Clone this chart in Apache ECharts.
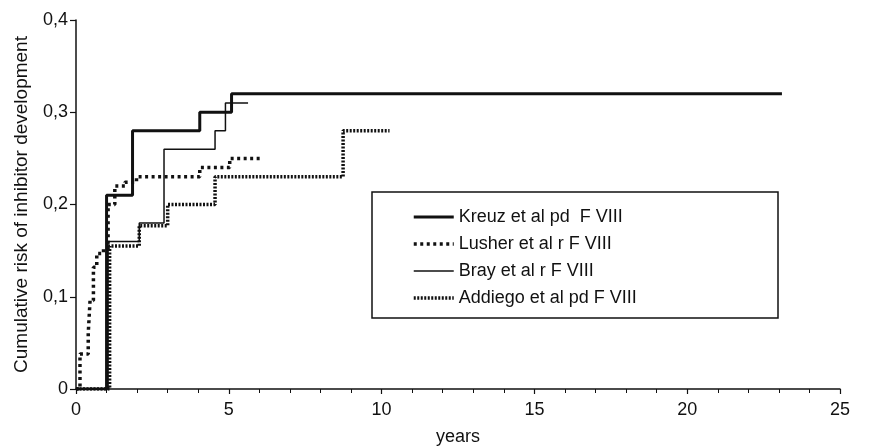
<!DOCTYPE html>
<html>
<head>
<meta charset="utf-8">
<script src="https://cdn.jsdelivr.net/npm/echarts@6/dist/echarts.min.js"></script>
<style>html,body{margin:0;padding:0;background:#fff}#c{width:870px;height:447px}</style>
</head>
<body>
<div id="c"></div>
<script>
// Data (years, cumulative risk); step changes
var seriesNames = ['Kreuz et al pd  F VIII', 'Lusher et al r F VIII', 'Bray et al r F VIII', 'Addiego et al pd F VIII'];
var kreuz = [[0,0],[1.0,0.21],[1.85,0.28],[4.05,0.30],[5.09,0.32],[23.1,0.32]];
var lusher = [[0,0],[0.13,0.038],[0.4,0.06],[0.46,0.096],[0.57,0.132],[0.68,0.147],[0.9,0.152],[1.05,0.2],[1.27,0.22],[1.6,0.224],[1.98,0.23],[4.05,0.24],[5.03,0.25],[6.1,0.25]];
var bray = [[0,0],[1.05,0.16],[2.07,0.18],[2.88,0.26],[4.55,0.28],[4.89,0.31],[5.63,0.31]];
var addiego = [[0,0],[1.1,0.155],[2.07,0.177],[3.0,0.2],[4.55,0.23],[8.74,0.28],[10.26,0.28]];
var xTicks = [0,5,10,15,20,25];
var yTicks = ['0','0,1','0,2','0,3','0,4'];

var ink = '#111';
var font = 'Liberation Sans, Arial, sans-serif';
var widths = [3, 3.5, 1.5, 3.5];
var dashes = ['solid', [3, 3.5], 'solid', [2, 1.5]];
var chart = echarts.init(document.getElementById('c'));
function mk(i, data) {
  return {
    name: seriesNames[i], type: 'line', step: 'end', data: data,
    symbol: 'none', showSymbol: false, animation: false,
    lineStyle: {color: ink, width: widths[i], type: dashes[i]},
    itemStyle: {color: ink}
  };
}
chart.setOption({
  animation: false,
  grid: {left: 76, right: 30, top: 20, bottom: 58, outerBoundsMode: 'none', containLabel: false},
  xAxis: {
    type: 'value', min: 0, max: 25, interval: 5,
    name: 'years', nameLocation: 'middle', nameGap: 39,
    nameTextStyle: {color: ink, fontSize: 18, fontFamily: font},
    axisLine: {lineStyle: {color: ink, width: 1.5}},
    axisTick: {show: true, length: 5, lineStyle: {color: ink, width: 1.2}},
    minorTick: {show: true, splitNumber: 5, length: 4, lineStyle: {color: ink, width: 1}},
    splitLine: {show: false},
    axisLabel: {color: ink, fontSize: 18, fontFamily: font, margin: 12,
      formatter: function (v) { return xTicks.indexOf(v) >= 0 ? String(v) : ''; }}
  },
  yAxis: {
    type: 'value', min: 0, max: 0.4, interval: 0.1,
    name: 'Cumulative risk of inhibitor development', nameLocation: 'middle', nameGap: 45,
    nameTextStyle: {color: ink, fontSize: 19, fontFamily: font},
    axisLine: {show: true, lineStyle: {color: ink, width: 1.5}},
    axisTick: {show: true, length: 6, lineStyle: {color: ink, width: 1.2}},
    splitLine: {show: false},
    axisLabel: {color: ink, fontSize: 18, fontFamily: font, margin: 8,
      formatter: function (v) { return yTicks[Math.round(v * 10)]; }}
  },
  legend: {
    orient: 'vertical', left: 407, top: 203,
    itemWidth: 40, itemHeight: 18, itemGap: 9,
    itemStyle: {opacity: 0},
    textStyle: {color: ink, fontSize: 18, fontFamily: font, lineHeight: 18},
    data: seriesNames.map(function (n, i) {
      return {name: n, lineStyle: {width: widths[i], type: dashes[i], color: ink}};
    })
  },
  graphic: [{
    type: 'rect', shape: {x: 372, y: 192, width: 406, height: 126},
    style: {fill: 'none', stroke: ink, lineWidth: 1.5}, z: 10
  }],
  series: [mk(0, kreuz), mk(1, lusher), mk(2, bray), mk(3, addiego)]
});
</script>
</body>
</html>
